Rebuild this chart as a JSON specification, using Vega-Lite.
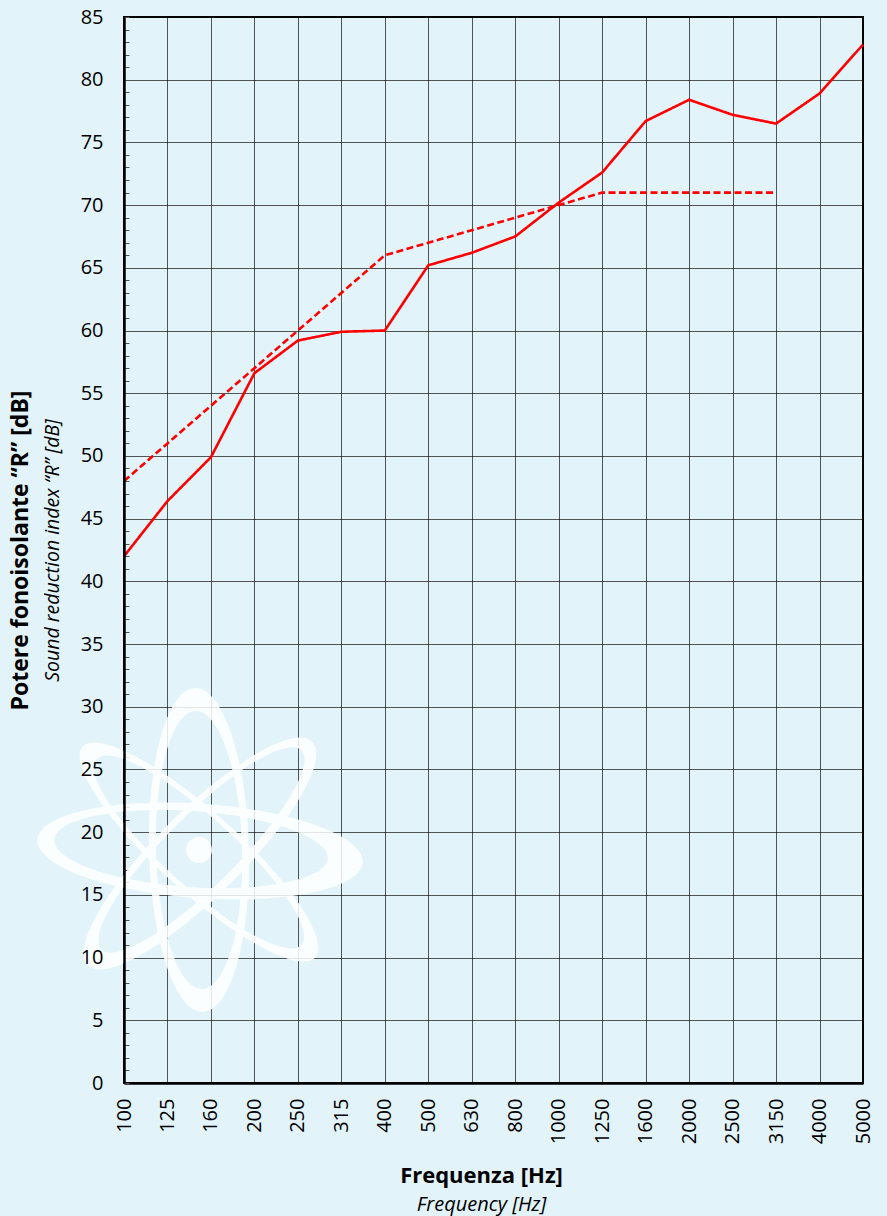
{
  "$schema": "https://vega.github.io/schema/vega-lite/v6.json",
  "width": 739,
  "height": 1066,
  "autosize": {"type": "none"},
  "padding": {"left": 124, "top": 17, "right": 24, "bottom": 133},
  "config": {
    "background": "#E2F3FA",
    "view": {"stroke": "#000", "strokeWidth": 2},
    "font": "Open Sans"
  },
  "resolve": {"axis": {"x": "independent", "y": "independent"}},
  "layer": [
    {
      "data": {"values": [{"freq": "160", "R": 18.5}]},
      "mark": {
        "type": "point",
        "shape": "M 151.7 11.4 A 163 47 4 1 1 -173.5 -11.4 A 163 47 4 1 1 151.7 11.4 Z M 116.8 7.6 A 137 38 4 1 0 -156.6 -11.6 A 137 38 4 1 0 116.8 7.6 Z M -7.9 161 A 162 50 88.6 1 1 -15.9 -163 A 162 50 88.6 1 1 -7.9 161 Z M -8.5 138 A 139 43 88.6 1 0 -15.3 -140 A 139 43 88.6 1 0 -8.5 138 Z M 104.4 106.5 A 157 40 42.2 1 1 -128.2 -104.5 A 157 40 42.2 1 1 104.4 106.5 Z M 90.3 93.7 A 138 34 42.2 1 0 -114.1 -91.7 A 138 34 42.2 1 0 90.3 93.7 Z M 101 -109 A 158 42 -44.9 1 1 -122.8 114 A 158 42 -44.9 1 1 101 -109 Z M 90.5 -100.5 A 141 35 -44.9 1 0 -109.3 98.5 A 141 35 -44.9 1 0 90.5 -100.5 Z M 1.1 -1 A 13 13 0 1 1 -24.9 -1 A 13 13 0 1 1 1.1 -1 Z",
        "size": 4,
        "filled": true,
        "color": "#FFFFFF",
        "opacity": 0.85,
        "strokeWidth": 0
      },
      "encoding": {
        "x": {
          "field": "freq", "type": "ordinal",
          "scale": {"type": "point", "padding": 0, "domain": ["100","125","160","200","250","315","400","500","630","800","1000","1250","1600","2000","2500","3150","4000","5000"]},
          "axis": {
            "orient": "bottom", "zindex": 0,
            "grid": true, "gridColor": "#000", "gridOpacity": 0.65, "gridWidth": 1,
            "ticks": false,
            "domain": true, "domainColor": "#000", "domainWidth": 2.5,
            "labelAngle": -90, "labelFont": "Open Sans", "labelFontSize": 20, "labelColor": "#000", "labelPadding": 15,
            "title": "Frequenza [Hz]", "titleFont": "Open Sans", "titleFontWeight": "bold", "titleFontSize": 22, "titleColor": "#000",
            "minExtent": 62, "maxExtent": 62, "titlePadding": 20, "titleX": 357
          }
        },
        "y": {
          "field": "R", "type": "quantitative",
          "scale": {"domain": [0, 85], "nice": false, "zero": true},
          "axis": {
            "orient": "left", "zindex": 0,
            "values": [0,1,2,3,4,5,6,7,8,9,10,11,12,13,14,15,16,17,18,19,20,21,22,23,24,25,26,27,28,29,30,31,32,33,34,35,36,37,38,39,40,41,42,43,44,45,46,47,48,49,50,51,52,53,54,55,56,57,58,59,60,61,62,63,64,65,66,67,68,69,70,71,72,73,74,75,76,77,78,79,80,81,82,83,84,85],
            "grid": true, "gridColor": "#000", "gridWidth": 1,
            "gridOpacity": {"condition": {"test": "datum.value % 5 === 0", "value": 0.65}, "value": 0},
            "ticks": true, "tickSize": -5, "tickColor": "#555", "tickWidth": 1,
            "labels": false, "domain": false,
            "title": "Sound reduction index “R” [dB]", "titleFont": "Open Sans", "titleFontStyle": "italic", "titleFontWeight": "normal", "titleFontSize": 19.5, "titleColor": "#000",
            "minExtent": 44, "maxExtent": 44, "titlePadding": 18
          }
        }
      }
    },
    {
      "data": {"values": [
        {"freq": "100", "R": 42.0, "curve": "measured"},
        {"freq": "125", "R": 46.4, "curve": "measured"},
        {"freq": "160", "R": 49.9, "curve": "measured"},
        {"freq": "200", "R": 56.6, "curve": "measured"},
        {"freq": "250", "R": 59.2, "curve": "measured"},
        {"freq": "315", "R": 59.9, "curve": "measured"},
        {"freq": "400", "R": 60.0, "curve": "measured"},
        {"freq": "500", "R": 65.2, "curve": "measured"},
        {"freq": "630", "R": 66.2, "curve": "measured"},
        {"freq": "800", "R": 67.5, "curve": "measured"},
        {"freq": "1000", "R": 70.2, "curve": "measured"},
        {"freq": "1250", "R": 72.6, "curve": "measured"},
        {"freq": "1600", "R": 76.7, "curve": "measured"},
        {"freq": "2000", "R": 78.4, "curve": "measured"},
        {"freq": "2500", "R": 77.2, "curve": "measured"},
        {"freq": "3150", "R": 76.5, "curve": "measured"},
        {"freq": "4000", "R": 78.9, "curve": "measured"},
        {"freq": "5000", "R": 82.8, "curve": "measured"},
        {"freq": "100", "R": 48, "curve": "reference"},
        {"freq": "125", "R": 51, "curve": "reference"},
        {"freq": "160", "R": 54, "curve": "reference"},
        {"freq": "200", "R": 57, "curve": "reference"},
        {"freq": "250", "R": 60, "curve": "reference"},
        {"freq": "315", "R": 63, "curve": "reference"},
        {"freq": "400", "R": 66, "curve": "reference"},
        {"freq": "500", "R": 67, "curve": "reference"},
        {"freq": "630", "R": 68, "curve": "reference"},
        {"freq": "800", "R": 69, "curve": "reference"},
        {"freq": "1000", "R": 70, "curve": "reference"},
        {"freq": "1250", "R": 71, "curve": "reference"},
        {"freq": "1600", "R": 71, "curve": "reference"},
        {"freq": "2000", "R": 71, "curve": "reference"},
        {"freq": "2500", "R": 71, "curve": "reference"},
        {"freq": "3150", "R": 71, "curve": "reference"}
      ]},
      "mark": {"type": "line", "color": "#FF0000", "strokeWidth": 2.6},
      "encoding": {
        "x": {
          "field": "freq", "type": "ordinal", "sort": null,
          "scale": {"type": "point", "padding": 0, "domain": ["100","125","160","200","250","315","400","500","630","800","1000","1250","1600","2000","2500","3150","4000","5000"]},
          "axis": {
            "orient": "bottom", "zindex": 0,
            "grid": false, "ticks": false, "domain": false, "labels": false,
            "title": "Frequency [Hz]", "titleFont": "Open Sans", "titleFontStyle": "italic", "titleFontWeight": "normal", "titleFontSize": 20, "titleColor": "#000",
            "minExtent": 62, "maxExtent": 62, "titlePadding": 49, "titleX": 357
          }
        },
        "y": {
          "field": "R", "type": "quantitative",
          "scale": {"domain": [0, 85], "nice": false, "zero": true},
          "axis": {
            "orient": "left", "zindex": 1,
            "values": [0,5,10,15,20,25,30,35,40,45,50,55,60,65,70,75,80,85],
            "grid": false, "ticks": false,
            "domain": true, "domainColor": "#000", "domainWidth": 2.5,
            "labelFont": "Open Sans", "labelFontSize": 20, "labelColor": "#000", "labelPadding": 21, "labelOverlap": false,
            "title": "Potere fonoisolante “R” [dB]", "titleFont": "Open Sans", "titleFontWeight": "bold", "titleFontSize": 23, "titleColor": "#000",
            "minExtent": 44, "maxExtent": 44, "titlePadding": 48
          }
        },
        "strokeDash": {
          "field": "curve", "type": "nominal",
          "scale": {"domain": ["measured", "reference"], "range": [[1, 0], [7, 3.5]]},
          "legend": null
        }
      }
    }
  ]
}
